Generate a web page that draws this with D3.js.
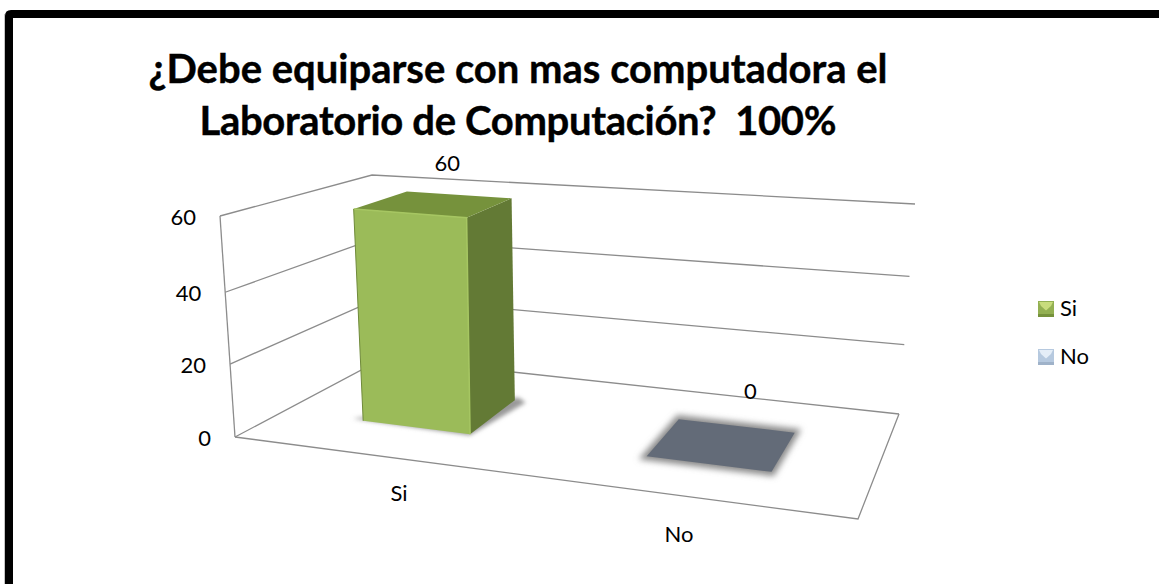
<!DOCTYPE html>
<html>
<head>
<meta charset="utf-8">
<script src="https://cdn.jsdelivr.net/npm/d3@7"></script>
<style>
    html, body { margin: 0; padding: 0; background: #fff; overflow: hidden; }
    svg { display: block; font-family: Lato, "Noto Sans", sans-serif; }
</style>
</head>
<body>
<div id="chart-container"></div>
<script>
// Data
const categories = ["Si", "No"];
const values = [60, 0];
const yTicks = [0, 20, 40, 60];
const titleLines = ["¿Debe equiparse con mas computadora el", "Laboratorio de Computación?  100%"];

const width = 1159;
const height = 584;

const svg = d3.select("#chart-container")
    .append("svg")
    .attr("width", width)
    .attr("height", height);

const defs = svg.append("defs");
defs.append("filter").attr("id", "blur4")
    .attr("x", "-30%").attr("y", "-60%").attr("width", "160%").attr("height", "220%")
    .append("feGaussianBlur").attr("stdDeviation", 3);
defs.append("filter").attr("id", "blur2")
    .attr("x", "-30%").attr("y", "-60%").attr("width", "160%").attr("height", "220%")
    .append("feGaussianBlur").attr("stdDeviation", 2);

// Black frame, open on the right and bottom like the original screenshot
svg.append("path")
    .attr("d", `M9 ${height + 10} V16 Q9 14 11 14 H${width + 10}`)
    .attr("fill", "none")
    .attr("stroke", "#000")
    .attr("stroke-width", 8);
svg.append("line")
    .attr("x1", 4.5).attr("x2", 4.5).attr("y1", 14).attr("y2", height)
    .attr("stroke", "#c4c4c4");

// Box of the 3D plot: corners on screen (front/back, left/right, bottom/top)
const box = {
    flb: [235, 437], frb: [858, 519], blb: [384, 358], brb: [899, 414],
    flt: [220, 216], frt: [879, 274], blt: [372, 175], brt: [915, 204]
};

// Height on the box; slightly uneven because of the perspective
const yScale = d3.scaleLinear().domain([0, 20, 40, 60]).range([0, 0.33, 0.655, 1]);
const xBand = d3.scaleBand().domain(categories).range([0.03, 0.995]).paddingInner(0.6).paddingOuter(0.3);
// Perspective: bars get wider towards the right
const xWarp = d3.scalePow().exponent(1.15).domain([0, 1]).range([0, 1]);
const depth = d3.scaleLinear().domain([0, 1]).range([0.33, 0.72]);

const mix = (a, b, t) => [a[0] + (b[0] - a[0]) * t, a[1] + (b[1] - a[1]) * t];

function project(u, v, h) {
    const bottom = mix(mix(box.flb, box.frb, u), mix(box.blb, box.brb, u), v);
    const top = mix(mix(box.flt, box.frt, u), mix(box.blt, box.brt, u), v);
    return mix(bottom, top, h);
}

const poly = (pts) => pts.map((p) => p.join(",")).join(" ");
const barCenter = (cat) => xWarp(xBand(cat) + xBand.bandwidth() / 2);

// Walls and floor
const gridG = svg.append("g")
    .attr("fill", "none")
    .attr("stroke", "#8c8c8c")
    .attr("stroke-width", 1.3);

function wire(pts) {
    gridG.append("polyline").attr("points", poly(pts));
}

yTicks.forEach((t) => {
    const h = yScale(t);
    wire([project(0, 0, h), project(0, 1, h), project(1, 1, h)]);
});
wire([project(0, 0, 0), project(0, 0, 1)]);
wire([project(0, 0, 0), project(1, 0, 0), project(1, 1, 0)]);

// Bars
const barColors = {
    Si: { front: "#9bbb59", side: "#637a35", top: "#76923c", edge: "#a6c662", shadow: "#999" },
    No: { front: "#636b78", side: "#636b78", top: "#636b78", edge: "#636b78", shadow: "#8a8a8a" }
};

categories.forEach((cat, i) => {
    const u0 = xWarp(xBand(cat));
    const u1 = xWarp(xBand(cat) + xBand.bandwidth());
    const v0 = depth(0);
    const v1 = depth(1);
    const h = yScale(values[i]);
    const c = barColors[cat];
    const g = svg.append("g");

    if (values[i] > 0) {
        // Shadow on the floor, only showing past the base of the bar
        g.append("polygon")
            .attr("points", poly([
                project(u0 - 0.02, v0 + 0.01, 0),
                project(u1 + 0.002, v0 - 0.012, 0),
                project(u1 + 0.022, v1 - 0.01, 0),
                project(u1, v1 + 0.03, 0)
            ]))
            .attr("fill", c.shadow)
            .attr("filter", "url(#blur2)");

        g.append("polygon")
            .attr("points", poly([project(u1, v0, 0), project(u1, v1, 0), project(u1, v1, h), project(u1, v0, h)]))
            .attr("fill", c.side);
        g.append("polygon")
            .attr("points", poly([project(u0, v0, h), project(u1, v0, h), project(u1, v1, h), project(u0, v1, h)]))
            .attr("fill", c.top);
        g.append("polygon")
            .attr("points", poly([project(u0, v0, 0), project(u1, v0, 0), project(u1, v0, h), project(u0, v0, h)]))
            .attr("fill", c.front);
        // Light bevel on the front edges
        g.append("polyline")
            .attr("points", poly([project(u0, v0, h), project(u1, v0, h), project(u1, v0, 0)]))
            .attr("fill", "none")
            .attr("stroke", c.edge)
            .attr("stroke-width", 1.5);
        g.append("polyline")
            .attr("points", poly([project(u0, v0, h), project(u0, v0, 0)]))
            .attr("fill", "none")
            .attr("stroke", "#6f8a3a")
            .attr("stroke-width", 1);
    } else {
        const flat = [project(u0, v0, h), project(u1, v0, h), project(u1, v1, h), project(u0, v1, h)];
        g.append("polygon")
            .attr("points", poly(flat))
            .attr("fill", c.shadow)
            .attr("stroke", c.shadow)
            .attr("stroke-width", 8)
            .attr("filter", "url(#blur4)");
        g.append("polygon")
            .attr("points", poly(flat))
            .attr("fill", c.front);
    }
});

// Y tick labels
svg.append("g")
    .selectAll("text")
    .data(yTicks)
    .enter()
    .append("text")
    .attr("x", (d) => project(0, 0, yScale(d))[0] - 24)
    .attr("y", (d) => project(0, 0, yScale(d))[1] + 9)
    .attr("text-anchor", "end")
    .style("font-size", "22px")
    .text((d) => d);

// Category labels, under the front edge of the floor
const catOffset = [[25, 46], [-6, 46]];
svg.append("g")
    .selectAll("text")
    .data(categories)
    .enter()
    .append("text")
    .attr("x", (d, i) => project(barCenter(d), 0, 0)[0] + catOffset[i][0])
    .attr("y", (d, i) => project(barCenter(d), 0, 0)[1] + catOffset[i][1])
    .attr("text-anchor", "middle")
    .style("font-size", "22px")
    .text((d) => d);

// Value labels
const labelOffset = [[14, -33], [28, -46]];
svg.append("g")
    .selectAll("text")
    .data(values)
    .enter()
    .append("text")
    .attr("x", (d, i) => project(barCenter(categories[i]), depth(0.5), yScale(d))[0] + labelOffset[i][0])
    .attr("y", (d, i) => project(barCenter(categories[i]), depth(0.5), yScale(d))[1] + labelOffset[i][1])
    .attr("text-anchor", "middle")
    .style("font-size", "22px")
    .text((d) => d);

// Title, each line squeezed to the width it has in the original
const titleWidths = [739, 637];
svg.append("g")
    .selectAll("text")
    .data(titleLines)
    .enter()
    .append("text")
    .attr("x", 518)
    .attr("y", (d, i) => 83 + i * 52)
    .attr("text-anchor", "middle")
    .attr("textLength", (d, i) => titleWidths[i])
    .style("font-size", "40px")
    .style("font-weight", "bold")
    .style("white-space", "pre")
    .style("stroke", "#000")
    .style("stroke-width", "0.4px")
    .text((d) => d);

// Legend
const legendColors = {
    Si: { light: "#c8dc7c", mid: "#93b052", dark: "#76923c" },
    No: { light: "#e4edf7", mid: "#b6c9df", dark: "#9fb2c9" }
};
const legendX = 1038;
const legendY = d3.scalePoint().domain(categories).range([301, 349]);
const legendSize = 16;

const legend = svg.append("g")
    .selectAll("g")
    .data(categories)
    .enter()
    .append("g")
    .attr("transform", (d) => `translate(${legendX}, ${legendY(d)})`);

legend.append("rect")
    .attr("width", legendSize)
    .attr("height", legendSize)
    .attr("fill", (d) => legendColors[d].mid);
legend.append("polygon")
    .attr("points", `1,1 ${legendSize - 1},1 ${legendSize - 3},5 ${legendSize / 2},${legendSize * 0.6} 3,5`)
    .attr("fill", (d) => legendColors[d].light);
legend.append("rect")
    .attr("y", legendSize - 3)
    .attr("width", legendSize)
    .attr("height", 3)
    .attr("fill", (d) => legendColors[d].dark);
legend.append("text")
    .attr("x", legendSize + 6)
    .attr("y", legendSize - 1)
    .style("font-size", "22px")
    .text((d) => d);
</script>
</body>
</html>
